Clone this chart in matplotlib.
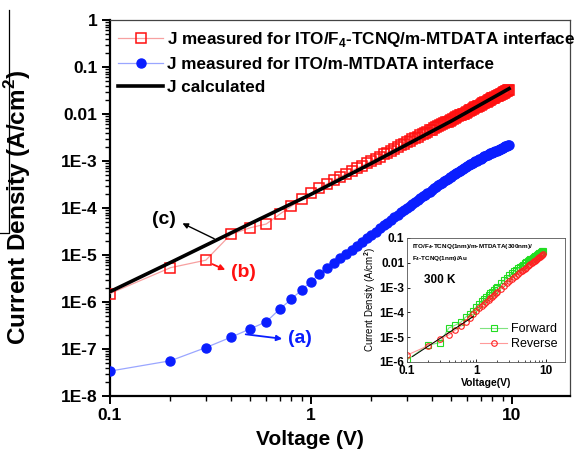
import numpy as np
import matplotlib
matplotlib.use("Agg")
import matplotlib.pyplot as plt
from matplotlib.lines import Line2D
from matplotlib.ticker import FixedLocator, LogLocator, NullFormatter

plt.rcParams['font.family'] = ['Liberation Sans', 'DejaVu Sans']
plt.rcParams['mathtext.fontset'] = 'custom'
plt.rcParams['mathtext.rm'] = 'Liberation Sans:bold'
plt.rcParams['mathtext.bf'] = 'Liberation Sans:bold'

# ---- main panel data (log10 of J in A/cm^2) ----
v_main = [0.1, 0.2, 0.3, 0.4, 0.5, 0.6, 0.7, 0.8, 0.9, 1.0,
          1.1, 1.2, 1.3, 1.4, 1.5, 1.6, 1.7, 1.8, 1.9, 2.0,
          2.1, 2.2, 2.3, 2.4, 2.5, 2.6, 2.7, 2.8, 2.9, 3.0,
          3.1, 3.2, 3.3, 3.4, 3.5, 3.6, 3.7, 3.8, 3.9, 4.0,
          4.1, 4.2, 4.3, 4.4, 4.5, 4.6, 4.7, 4.8, 4.9, 5.0,
          5.1, 5.2, 5.3, 5.4, 5.5, 5.6, 5.7, 5.8, 5.9, 6.0,
          6.1, 6.2, 6.3, 6.4, 6.5, 6.6, 6.7, 6.8, 6.9, 7.0,
          7.1, 7.2, 7.3, 7.4, 7.5, 7.6, 7.7, 7.8, 7.9, 8.0,
          8.1, 8.2, 8.3, 8.4, 8.5, 8.6, 8.7, 8.8, 8.9, 9.0,
          9.1, 9.2, 9.3, 9.4, 9.5, 9.6, 9.7]
logj_f4 = [-5.82, -5.27, -5.11, -4.56, -4.42, -4.34, -4.13, -3.96, -3.81, -3.69,
           -3.58, -3.49, -3.41, -3.34, -3.27, -3.21, -3.15, -3.10, -3.05, -3.00,
           -2.95, -2.91, -2.86, -2.82, -2.78, -2.74, -2.70, -2.67, -2.63, -2.60,
           -2.57, -2.54, -2.51, -2.48, -2.45, -2.43, -2.40, -2.38, -2.35, -2.33,
           -2.30, -2.28, -2.26, -2.24, -2.22, -2.20, -2.18, -2.16, -2.14, -2.12,
           -2.10, -2.08, -2.07, -2.05, -2.03, -2.02, -2.00, -1.99, -1.97, -1.95,
           -1.94, -1.92, -1.91, -1.89, -1.88, -1.86, -1.85, -1.83, -1.82, -1.80,
           -1.79, -1.77, -1.76, -1.75, -1.74, -1.72, -1.71, -1.70, -1.69, -1.67,
           -1.66, -1.65, -1.64, -1.62, -1.61, -1.60, -1.59, -1.58, -1.57, -1.56,
           -1.55, -1.54, -1.53, -1.52, -1.50, -1.49, -1.48]
logj_bare = [-7.47, -7.25, -6.97, -6.75, -6.57, -6.42, -6.15, -5.94, -5.74, -5.57,
             -5.41, -5.28, -5.16, -5.06, -4.98, -4.90, -4.81, -4.72, -4.64, -4.57,
             -4.50, -4.43, -4.37, -4.31, -4.25, -4.19, -4.14, -4.09, -4.04, -3.99,
             -3.95, -3.91, -3.87, -3.83, -3.79, -3.75, -3.72, -3.68, -3.65, -3.61,
             -3.58, -3.55, -3.52, -3.49, -3.46, -3.43, -3.41, -3.38, -3.35, -3.33,
             -3.30, -3.28, -3.26, -3.23, -3.21, -3.19, -3.17, -3.15, -3.13, -3.11,
             -3.09, -3.07, -3.06, -3.04, -3.02, -3.01, -2.99, -2.98, -2.96, -2.95,
             -2.93, -2.92, -2.90, -2.89, -2.88, -2.87, -2.85, -2.84, -2.83, -2.82,
             -2.81, -2.80, -2.79, -2.78, -2.77, -2.76, -2.75, -2.74, -2.73, -2.72,
             -2.71, -2.70, -2.69, -2.69, -2.68, -2.67, -2.66]
v_calc = [0.1, 0.2, 0.5, 1.0, 2.0, 5.0, 9.7]
logj_calc = [-5.78, -5.16, -4.33, -3.71, -3.05, -2.15, -1.46]

# ---- inset data ----
v_ins = [0.1, 0.2, 0.3, 0.4, 0.5, 0.6, 0.7, 0.8, 0.9, 1.0,
         1.1, 1.2, 1.3, 1.4, 1.5, 1.6, 1.7, 1.8, 1.9, 2.0,
         2.25, 2.5, 2.75, 3.0, 3.25, 3.5, 3.75, 4.0, 4.25, 4.5,
         4.75, 5.0, 5.25, 5.5, 5.75, 6.0, 6.25, 6.5, 6.75, 7.0,
         7.25, 7.5, 7.75, 8.0, 8.25, 8.5, 8.75, 9.0, 9.25]
logj_fwd = [-5.92, -5.32, -5.22, -4.63, -4.51, -4.39, -4.19, -4.06, -3.93, -3.77,
            -3.66, -3.56, -3.46, -3.38, -3.30, -3.22, -3.16, -3.09, -3.03, -2.97,
            -2.83, -2.71, -2.60, -2.50, -2.42, -2.35, -2.28, -2.22, -2.17, -2.12,
            -2.07, -2.02, -1.98, -1.94, -1.90, -1.86, -1.83, -1.80, -1.77, -1.74,
            -1.71, -1.68, -1.65, -1.62, -1.60, -1.57, -1.55, -1.53, -1.51]
logj_rev = [-5.72, -5.35, -5.07, -4.91, -4.71, -4.55, -4.37, -4.21, -4.08, -3.93,
            -3.83, -3.73, -3.65, -3.57, -3.49, -3.42, -3.36, -3.29, -3.23, -3.17,
            -3.05, -2.93, -2.83, -2.73, -2.65, -2.58, -2.52, -2.45, -2.39, -2.34,
            -2.29, -2.24, -2.19, -2.14, -2.10, -2.06, -2.02, -1.98, -1.94, -1.91,
            -1.88, -1.84, -1.81, -1.78, -1.75, -1.72, -1.69, -1.67, -1.64]
v_fit = [0.12, 0.9]
logj_fit = [-5.78, -4.17]

main_yticks = [1, 0.1, 0.01, 1e-3, 1e-4, 1e-5, 1e-6, 1e-7, 1e-8]
main_ylabels = ["1", "0.1", "0.01", "1E-3", "1E-4", "1E-5", "1E-6", "1E-7", "1E-8"]
ins_yticks = [0.1, 0.01, 1e-3, 1e-4, 1e-5, 1e-6]
ins_ylabels = ["0.1", "0.01", "1E-3", "1E-4", "1E-5", "1E-6"]
xticks = [0.1, 1, 10]
xlabels = ["0.1", "1", "10"]


def J(vals):
    return np.power(10.0, np.asarray(vals))


fig = plt.figure(figsize=(5.78, 4.58), dpi=100)
ax = fig.add_axes([110 / 578, 1 - 396 / 458, 460 / 578, 376 / 458])

ax.plot(v_main, J(logj_f4), color="#f7a0a0", lw=0.9, marker="s", ms=6.5,
        mfc="none", mec="#ff1010", mew=1.1, zorder=3,
        label="J measured for ITO/F$_4$-TCNQ/m-MTDATA interface")
ax.plot(v_main, J(logj_bare), color="#9aa6ff", lw=0.9, marker="o", ms=6.5,
        mfc="#0a1eff", mec="#0a1eff", zorder=3,
        label="J measured for ITO/m-MTDATA interface")
ax.plot(v_calc, J(logj_calc), color="black", lw=2.6, zorder=4, label="J calculated")

ax.set_xscale("log")
ax.set_yscale("log")
ax.set_xlim(0.1, 19.5)
ax.set_ylim(1e-8, 1)
ax.set_xticks(xticks)
ax.set_xticklabels(xlabels)
ax.set_yticks(main_yticks)
ax.set_yticklabels(main_ylabels)
ax.xaxis.set_minor_locator(LogLocator(base=10, subs=np.arange(2, 10)))
ax.yaxis.set_minor_locator(LogLocator(base=10, subs=np.arange(2, 10), numticks=20))
ax.xaxis.set_minor_formatter(NullFormatter())
ax.yaxis.set_minor_formatter(NullFormatter())
ax.tick_params(which="major", direction="out", length=6, width=1.4,
               labelsize=12.5, pad=3)
ax.tick_params(which="minor", direction="out", length=3.5, width=1.0)
for lab in ax.get_xticklabels() + ax.get_yticklabels():
    lab.set_fontweight("bold")
for s in ("left", "bottom"):
    ax.spines[s].set_linewidth(1.6)
for s in ("top", "right"):
    ax.spines[s].set_linewidth(0.9)
    ax.spines[s].set_color("#444444")

ax.set_xlabel("Voltage (V)", fontsize=15, fontweight="bold")
ax.set_ylabel("Current Density (A/cm$^2$)", fontsize=17.5, fontweight="bold")
ax.xaxis.set_label_coords((310 - 110) / 460, -(430 - 396) / 376)
ax.yaxis.set_label_coords(-(110 - 33) / 460, (396 - 207) / 376)

leg = ax.legend(loc="upper left", bbox_to_anchor=(-0.005, 1.0), frameon=False,
                fontsize=12.3, handlelength=2.65, handletextpad=0.25,
                labelspacing=0.47, borderaxespad=0.2)
for t in leg.get_texts():
    t.set_fontweight("bold")

# annotations
ax.annotate("", xy=(0.223, 10 ** -4.30), xytext=(0.34, 10 ** -4.68),
            arrowprops=dict(arrowstyle="-|>", color="black", lw=1.0,
                            mutation_scale=8), zorder=5)
ax.text(0.186, 10 ** -4.255, "(c)", fontsize=14, fontweight="bold",
        ha="center", va="center", color="black")
ax.annotate("", xy=(0.386, 10 ** -5.34), xytext=(0.314, 10 ** -5.17),
            arrowprops=dict(arrowstyle="-|>", color="#ff1010", lw=1.3,
                            mutation_scale=8), zorder=5)
ax.text(0.461, 10 ** -5.38, "(b)", fontsize=14, fontweight="bold",
        ha="center", va="center", color="#ff1010")
ax.annotate("", xy=(0.743, 10 ** -6.79), xytext=(0.459, 10 ** -6.68),
            arrowprops=dict(arrowstyle="-|>", color="#0a1eff", lw=1.3,
                            mutation_scale=8), zorder=5)
ax.text(0.882, 10 ** -6.77, "(a)", fontsize=14, fontweight="bold",
        ha="center", va="center", color="#0a1eff")

# stray scan edge at the far left
fig.lines.append(Line2D([9 / 578, 9 / 578, 0], [1 - 10 / 458, 1 - 233 / 458, 1 - 233 / 458],
                        transform=fig.transFigure, color="black", lw=0.9))

# ---- inset ----
ins = fig.add_axes([407 / 578, 1 - 362 / 458, 158 / 578, 124 / 458], zorder=6)
ins.plot(v_ins, J(logj_fwd), color="#7fe37f", lw=0.8, marker="s", ms=4,
         mfc="none", mec="#22dd22", mew=0.8, label="Forward")
ins.plot(v_ins, J(logj_rev), color="#ff9a9a", lw=0.8, marker="o", ms=4,
         mfc="none", mec="#ff2020", mew=0.8, label="Reverse")
ins.plot(v_fit, J(logj_fit), color="black", lw=0.7)
ins.set_xscale("log")
ins.set_yscale("log")
ins.set_xlim(0.1, 19)
ins.set_ylim(1e-6, 0.1)
ins.set_xticks(xticks)
ins.set_xticklabels(xlabels)
ins.set_yticks(ins_yticks)
ins.set_yticklabels(ins_ylabels)
ins.xaxis.set_minor_locator(LogLocator(base=10, subs=np.arange(2, 10)))
ins.yaxis.set_minor_locator(FixedLocator([]))
ins.xaxis.set_minor_formatter(NullFormatter())
ins.tick_params(which="major", direction="in", length=2.5, width=0.6,
                labelsize=8.5, pad=2)
ins.tick_params(which="minor", direction="in", length=1.5, width=0.5)
for lab in ins.get_xticklabels() + ins.get_yticklabels():
    lab.set_fontweight("bold")
for s in ins.spines.values():
    s.set_linewidth(0.6)
    s.set_color("#555555")
ins.set_xlabel("Voltage(V)", fontsize=7.5, fontweight="bold", labelpad=1)
ins.set_ylabel("Current Density (A/cm$^2$)", fontsize=7, labelpad=1)
ins.text(0.03, 0.97, "ITO/F$_4$-TCNQ(1nm)/m-MTDATA(300nm)/\nF$_4$-TCNQ(1nm)/Au",
         transform=ins.transAxes, fontsize=4.6, fontweight="bold",
         ha="left", va="top", linespacing=1.5)
ins.text(0.11, 0.66, "300 K", transform=ins.transAxes, fontsize=8.5,
         fontweight="bold", ha="left", va="center")
ins.legend(loc="lower right", bbox_to_anchor=(1.0, 0.035), frameon=False,
           fontsize=9, handlelength=2.2, handletextpad=0.3, labelspacing=0.25,
           borderaxespad=0.2)

fig.savefig("out.png", dpi=100)
